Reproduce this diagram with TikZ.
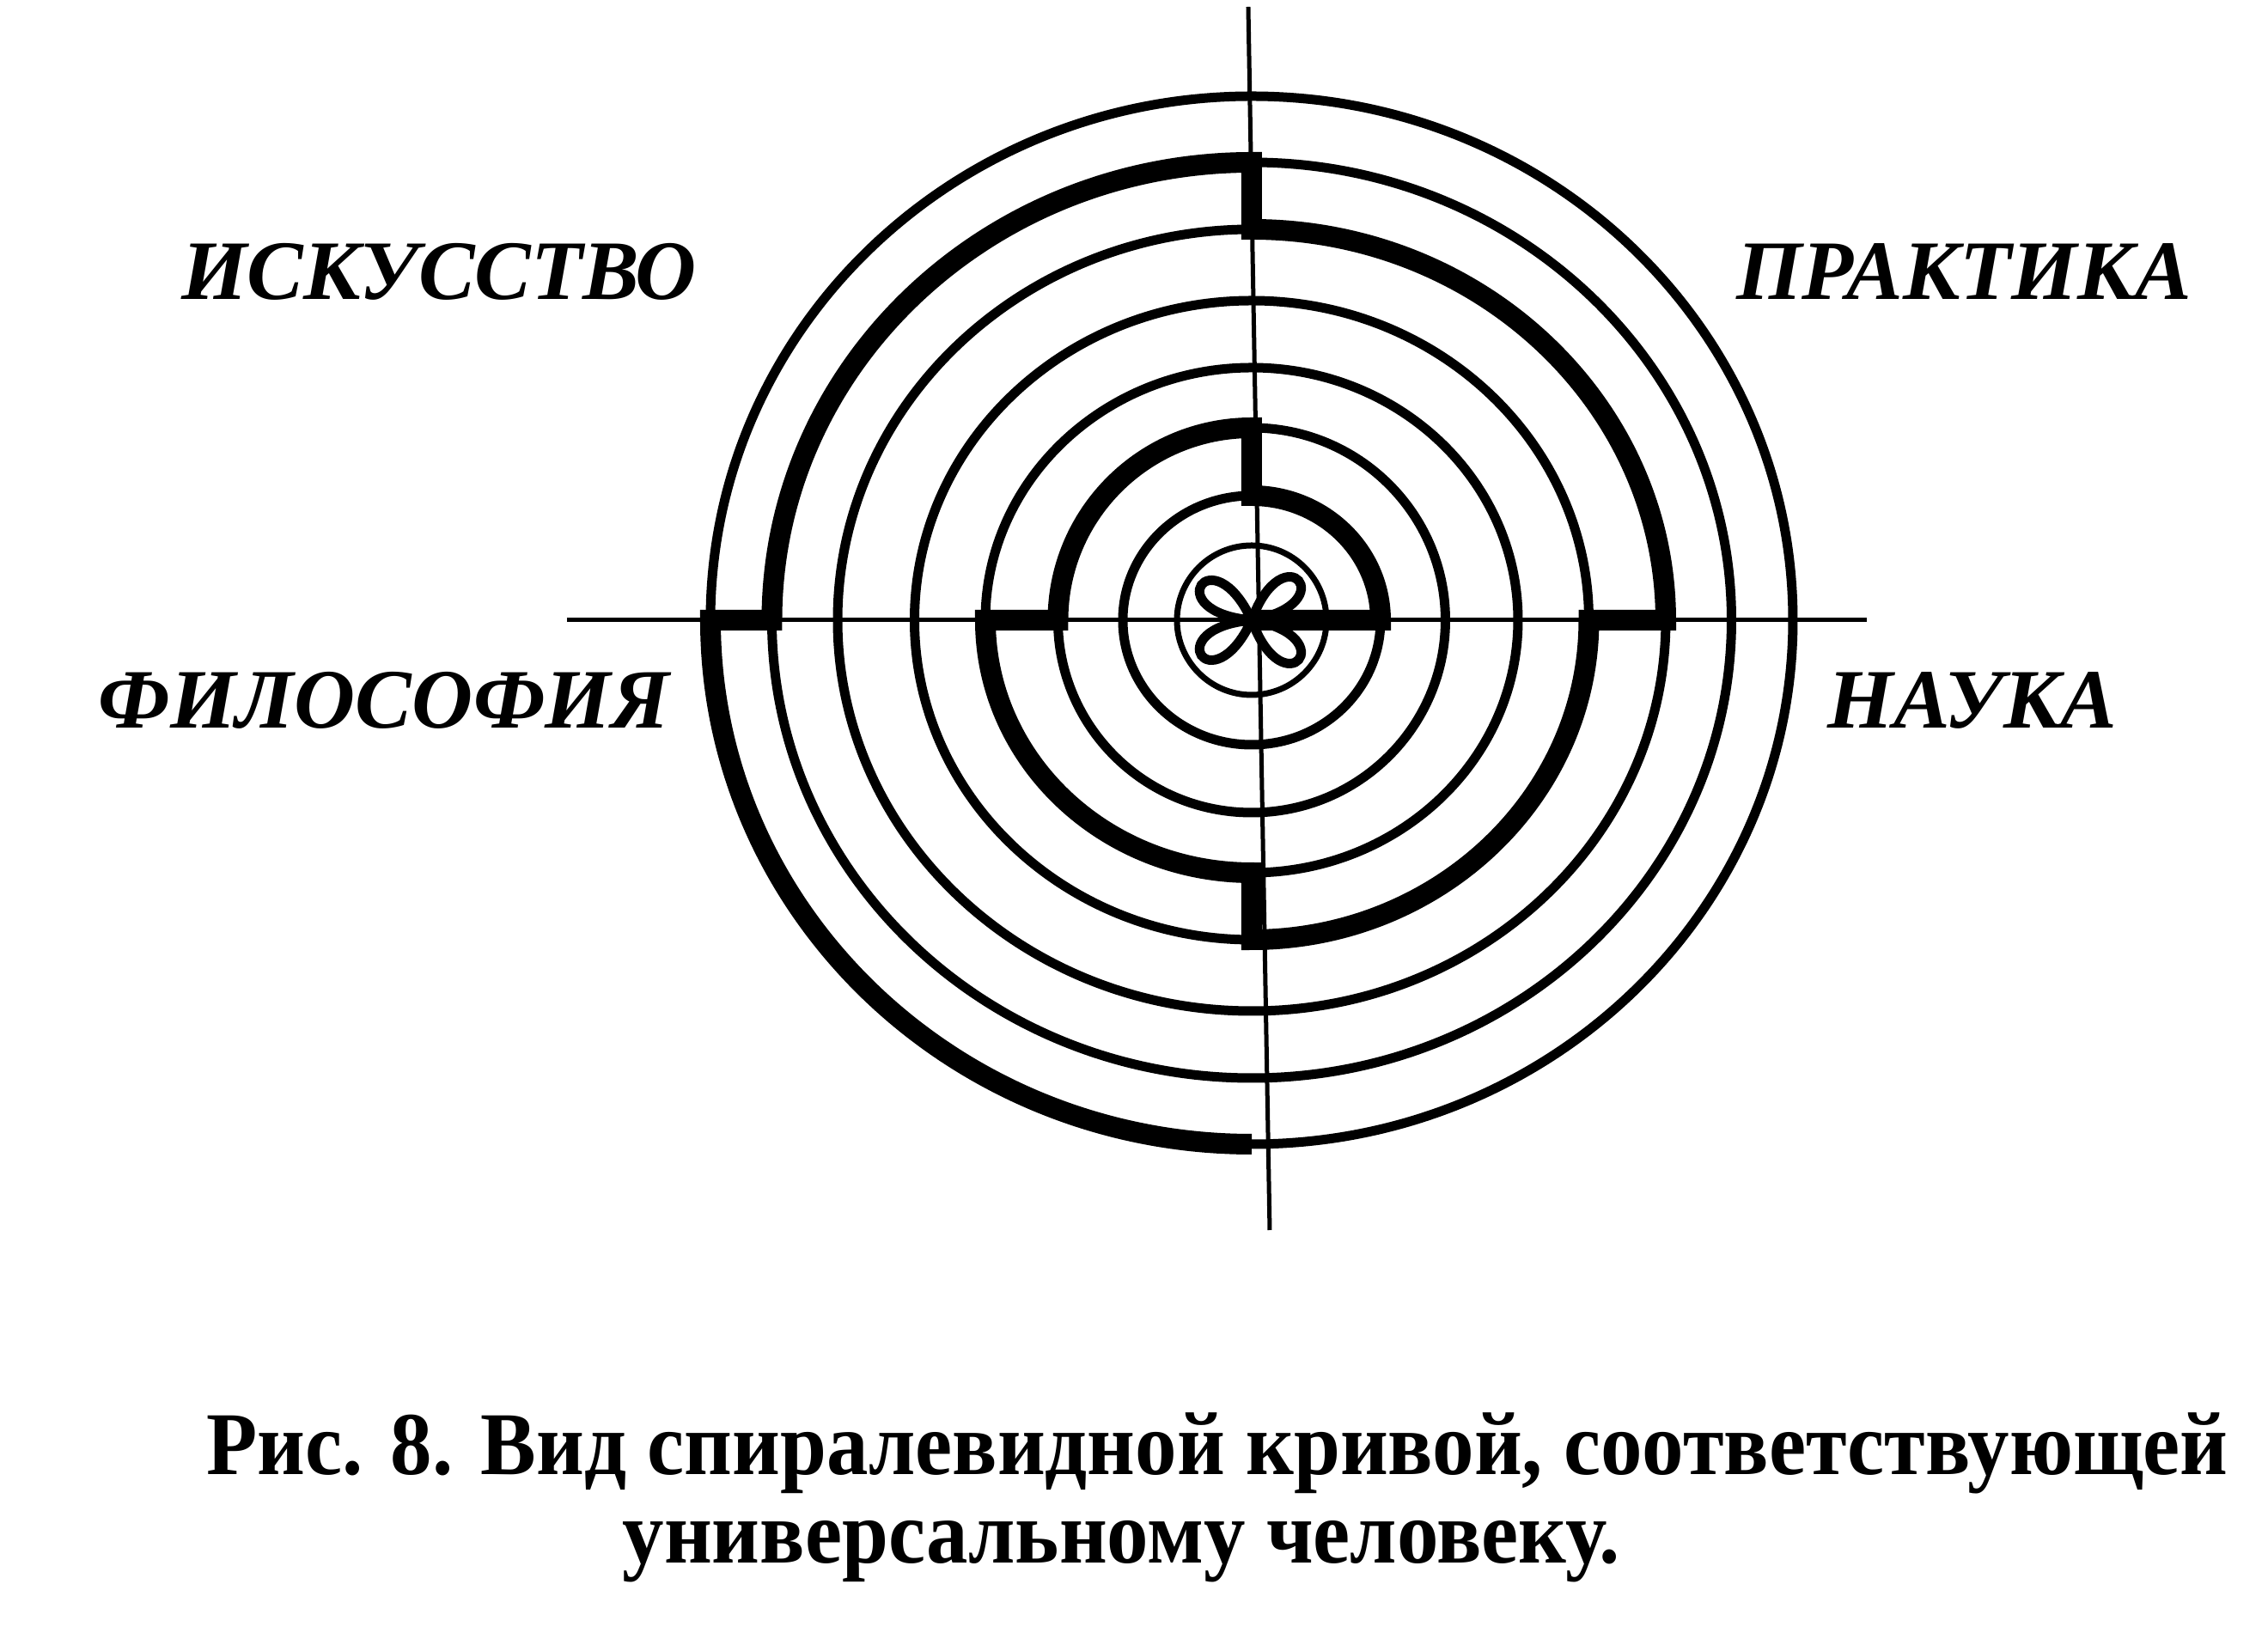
\documentclass[tikz,border=0pt]{standalone}
\usepackage{fontspec}
\setmainfont{Liberation Serif}
\usepackage{tikz}
\tikzstyle{axisLine} = [line width=0.05cm]
\tikzstyle{ring} = [line width=0.11cm]
\tikzstyle{innerRing} = [line width=0.07cm]
\tikzstyle{spiral} = [line width=0.24cm]
\tikzstyle{sphere} = [font=\fontsize{28}{30}\selectfont\bfseries\itshape, inner sep=0pt]
\tikzstyle{capNode} = [font=\fontsize{28}{30}\selectfont\bfseries, inner sep=0pt]

\begin{document}
\begin{tikzpicture}
    \useasboundingbox (-14.57,-11.93) rectangle (11.83,7.22);
    \coordinate (c) at (0,0);
    \coordinate (top) at (-0.04,7.14);
    \coordinate (bot) at (0.21,-7.10);
    \coordinate (west) at (-7.97,0);
    \coordinate (east) at (7.16,0);

    % axes
    \draw [axisLine] (top) -- (bot);
    \draw [axisLine] (west) -- (east);

    % rings
    \draw [innerRing] (c) circle [radius=0.87];
    \foreach \rx/\ry in {1.50/1.45, 2.255/2.24, 3.10/2.94, 3.925/3.72, 4.82/4.55, 5.585/5.33, 6.30/6.10}
        \draw [ring] (c) ellipse [x radius=\rx, y radius=\ry];

    % flower
    \foreach \a in {40,145,215,320}
        \draw [ring] (c) .. controls (\a-30:1.1) and (\a+30:1.1) .. (c);

    % spiral
    \draw [spiral] (-0.1,0) -- (1.50,0)
        arc [start angle=0, end angle=90, x radius=1.50, y radius=1.45] -- (0,2.24)
        arc [start angle=90, end angle=180, x radius=2.255, y radius=2.24] -- (-3.10,0)
        arc [start angle=180, end angle=270, x radius=3.10, y radius=2.94] -- (0,-3.72)
        arc [start angle=270, end angle=360, x radius=3.925, y radius=3.72] -- (4.82,0)
        arc [start angle=0, end angle=90, x radius=4.82, y radius=4.55] -- (0,5.33)
        arc [start angle=90, end angle=180, x radius=5.585, y radius=5.33] -- (-6.30,0)
        arc [start angle=180, end angle=270, x radius=6.30, y radius=6.10];

    % labels
    \node (art) [sphere] at (-9.46,4.06) {ИСКУССТВО};
    \node (practice) [sphere] at (8.29,4.06) {ПРАКТИКА};
    \node (philosophy) [sphere] at (-10.10,-0.93) {ФИЛОСОФИЯ};
    \node (science) [sphere] at (8.39,-0.93) {НАУКА};

    \node (capA) [capNode] at (-0.40,-9.70) {\scalebox{0.985}[1.06]{Рис. 8. Вид спиралевидной кривой, соответствующей}};
    \node (capB) [capNode] at (-1.52,-10.84) {\scalebox{0.985}[1.06]{универсальному человеку.}};
\end{tikzpicture}
\end{document}
